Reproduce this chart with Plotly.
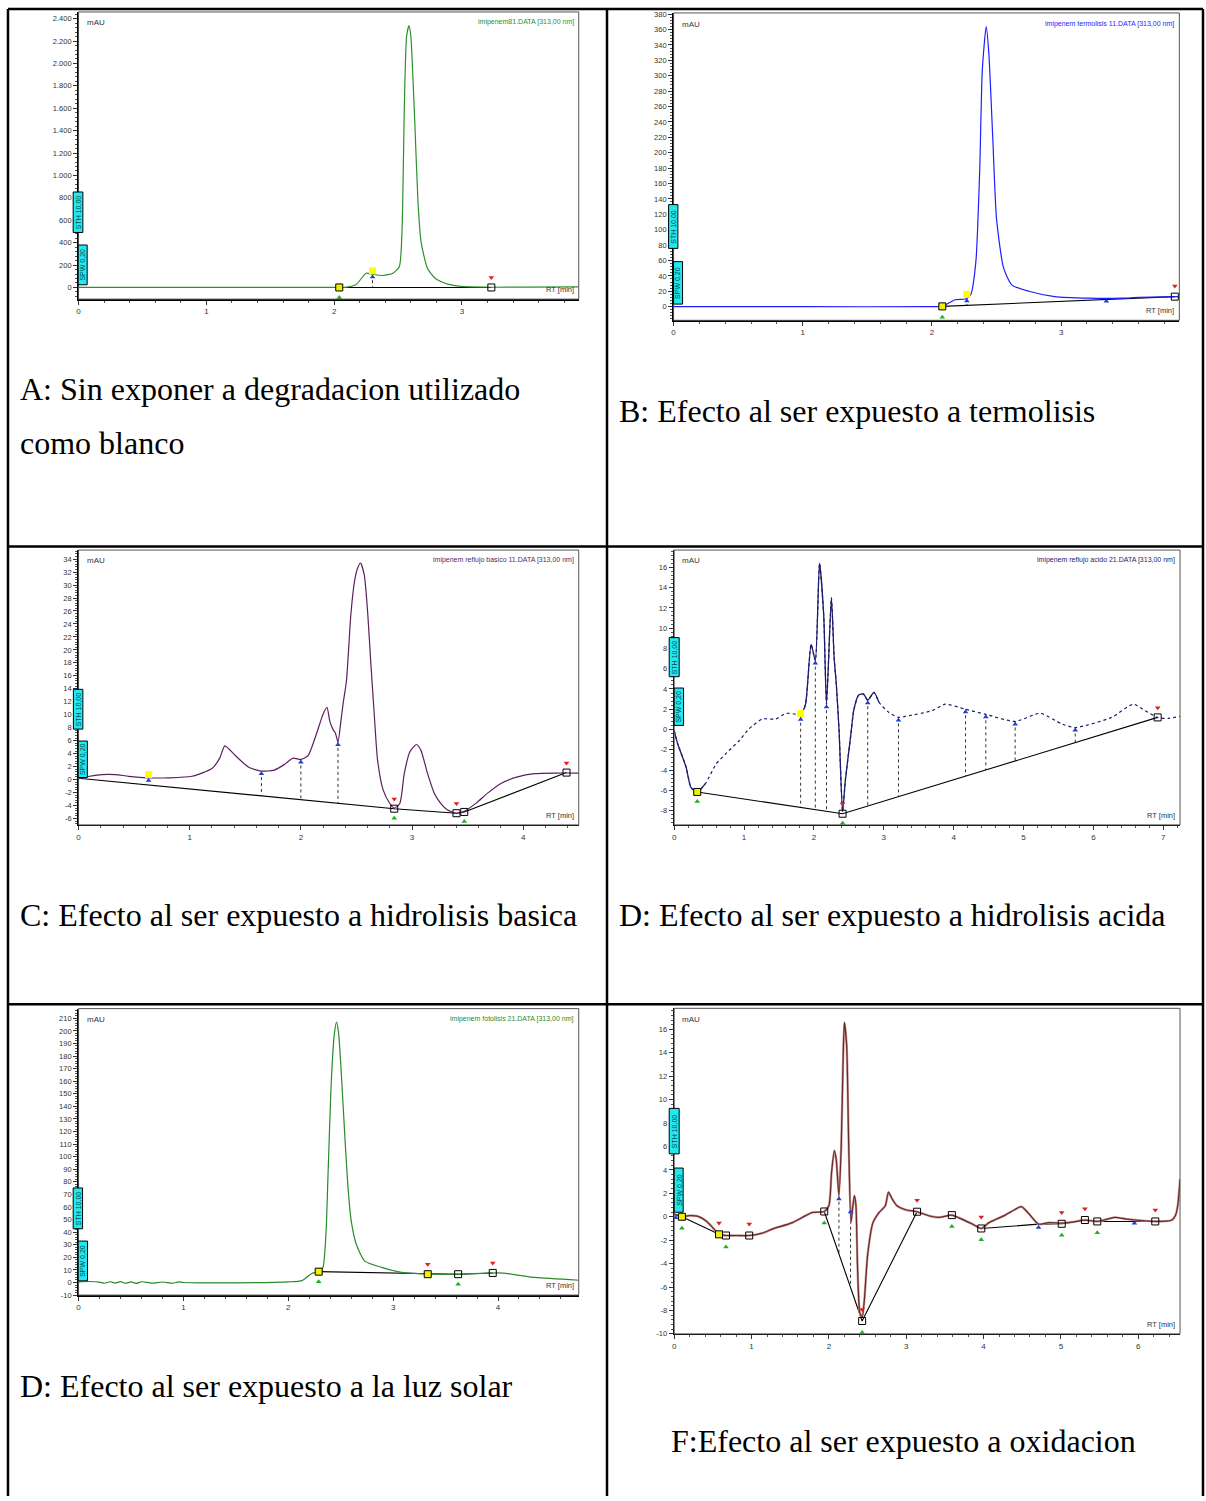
import numpy as np
import plotly.graph_objects as go

W, H = 1206, 1501

# ---------------- Panel A : imipenem81 (blanco) ----------------
a_t = [0, 0.5, 1.0, 1.5, 2.0, 2.08, 2.17, 2.25, 2.30, 2.38, 2.46, 2.51, 2.53, 2.55, 2.567, 2.586,
       2.60, 2.63, 2.656, 2.68, 2.73, 2.79, 2.89, 2.99, 3.23, 3.5, 3.91]
a_v = [0, 0, 0, 0, 0, 0, 24, 127, 118, 107, 127, 186, 468, 1652, 2244, 2338,
       2244, 1504, 764, 409, 171, 83, 30, 9, 2, 3, 5]
a_base_t = [2.04, 3.23]
a_base_v = [0, 0]
a_sq_t = [3.23]
a_ysq_t = [2.04]
a_flag_t = [2.30]
a_blue_t = [2.30]
a_red_t = [3.23]
a_green_t = [2.04]
a_drop_t = [2.30]
a_yticks = [0, 200, 400, 600, 800, 1000, 1200, 1400, 1600, 1800, 2000, 2200, 2400]
a_ylabels = ['0', '200', '400', '600', '800', '1.000', '1.200', '1.400', '1.600', '1.800',
             '2.000', '2.200', '2.400']
a_xticks = [0, 1, 2, 3]

# ---------------- Panel B : termolisis ----------------
b_t = [0, 1.0, 2.0, 2.08, 2.18, 2.26, 2.30, 2.34, 2.37, 2.39, 2.42, 2.44, 2.47, 2.50, 2.555,
       2.62, 2.75, 2.95, 3.21, 3.47, 3.60, 3.91]
b_v = [0, 0, 0, 0.4, 9, 10, 15.5, 58.5, 179, 308, 364, 330, 222, 114, 50,
       28, 20, 13, 11, 11, 12, 13]
b_base_t = [2.08, 3.88]
b_base_v = [0.4, 13]
b_sq_t = [3.88]
b_ysq_t = [2.08]
b_flag_t = [2.27]
b_blue_t = [2.27, 3.35]
b_red_t = [3.88]
b_green_t = [2.08]
b_drop_t = [2.27]
b_yticks = list(range(0, 381, 20))
b_ylabels = [str(v) for v in b_yticks]
b_xticks = [0, 1, 2, 3]

# ---------------- Panel C : hidrolisis basica ----------------
c_t = [0, 0.1, 0.21, 0.33, 0.45, 0.63, 0.81, 1.02, 1.20, 1.27, 1.316, 1.41, 1.53, 1.645, 1.76,
       1.85, 1.93, 2.0, 2.065, 2.17, 2.20, 2.235, 2.26, 2.29, 2.31, 2.334, 2.36, 2.38, 2.41,
       2.45, 2.483, 2.51, 2.537, 2.57, 2.60, 2.63, 2.66, 2.69, 2.74, 2.80, 2.84, 2.89, 2.93,
       2.98, 3.04, 3.08, 3.14, 3.20, 3.26, 3.32, 3.40, 3.47, 3.58, 3.68, 3.80, 3.95, 4.10,
       4.30, 4.50]
c_v = [0.15, 0.5, 0.77, 0.77, 0.5, 0.26, 0.26, 0.5, 1.7, 3.3, 5.2, 3.7, 1.9, 1.3, 1.45,
       2.3, 3.3, 3.1, 3.7, 8.6, 10.1, 11.15, 9.0, 7.7, 7.2, 5.8, 9.0, 11.7, 15.2,
       25.5, 30.6, 32.6, 33.4, 31.6, 26.0, 17.8, 10.1, 3.0, -1.6, -3.7, -4.4, -3.7, 0.9,
       4.25, 5.4, 4.5, 0.9, -2.1, -3.7, -4.7, -5.2, -4.9, -3.6, -2.1, -0.6, 0.4, 0.9,
       1.0, 1.0]
c_base_t = [0, 2.84, 3.40, 3.47, 4.39]
c_base_v = [0.2, -4.5, -5.2, -5.0, 1.07]
c_sq_t = [2.84, 3.40, 3.47, 4.39]
c_ysq_t = []
c_flag_t = [0.63]
c_blue_t = [0.63, 1.645, 2.0, 2.334]
c_red_t = [2.84, 3.40, 4.39]
c_green_t = [2.84, 3.47]
c_drop_t = [1.645, 2.0, 2.334]
c_yticks = list(range(-6, 35, 2))
c_ylabels = [str(v) for v in c_yticks]
c_xticks = [0, 1, 2, 3, 4]

# ---------------- Panel D : hidrolisis acida ----------------
d_t = [0, 0.05, 0.17, 0.24, 0.33, 0.45, 0.60, 0.75, 0.93, 1.07, 1.26, 1.45, 1.60, 1.74, 1.81,
       1.88, 1.96, 2.02, 2.08, 2.14, 2.18, 2.25, 2.29, 2.32, 2.36, 2.41, 2.45, 2.53, 2.57,
       2.64, 2.71, 2.77, 2.86, 2.93, 3.07, 3.21, 3.31, 3.69, 3.88, 4.17, 4.46, 4.88, 5.24,
       5.55, 5.74, 6.26, 6.57, 6.74, 6.92, 7.07, 7.24]
d_v = [-0.1, -1.4, -3.7, -5.7, -6.15, -5.3, -3.4, -2.3, -1.1, 0.06, 1.04, 1.04, 1.6, 1.5, 1.27,
       2.5, 8.4, 6.8, 16.4, 11.3, 2.5, 13.0, 7.0, 4.5, -0.1, -8.1, -5.0, -0.4, 1.9,
       3.4, 3.5, 2.9, 3.66, 2.7, 1.7, 1.2, 1.3, 1.86, 2.5, 2.0, 1.5, 0.8, 1.6,
       0.55, 0.2, 1.2, 2.5, 1.86, 1.2, 1.1, 1.3]
d_solid = [(0.0, 0.45), (1.81, 2.93)]
d_base_t = [0.33, 2.41, 6.92]
d_base_v = [-6.15, -8.3, 1.2]
d_sq_t = [2.41, 6.92]
d_ysq_t = [0.33]
d_flag_t = [1.81]
d_blue_t = [1.81, 2.02, 2.18, 2.77, 3.21, 4.17, 4.46, 4.88, 5.74]
d_red_t = [2.41, 6.92]
d_green_t = [0.33, 2.41]
d_drop_t = [1.81, 2.02, 2.18, 2.77, 3.21, 4.17, 4.46, 4.88, 5.74]
d_yticks = list(range(-8, 17, 2))
d_ylabels = [str(v) for v in d_yticks]
d_xticks = [0, 1, 2, 3, 4, 5, 6, 7]

# ---------------- Panel E : fotolisis ----------------
e_t = [0, 0.1, 0.2, 0.25, 0.3, 0.35, 0.4, 0.45, 0.5, 0.55, 0.6, 0.7, 0.8, 0.9, 0.95, 1.0,
       1.5, 2.0, 2.13, 2.22, 2.29, 2.33, 2.36, 2.38, 2.41, 2.44, 2.46, 2.48, 2.51, 2.54, 2.57,
       2.60, 2.65, 2.73, 2.89, 3.08, 3.40, 3.62, 3.90, 4.05, 4.35, 4.77]
e_v = [0.5, 0.8, 0.3, -0.6, 0.6, -0.5, 0.7, -0.6, 0.5, -0.7, 0.6, -0.5, 0.4, -0.6, 0.5, 0,
       -0.3, 0.5, 1.5, 7.0, 8.6, 12, 40, 88, 160, 198, 207, 198, 160, 115, 75,
       49, 30, 17, 12, 8, 6.6, 6.6, 7.5, 7.5, 4, 1.8]
e_base_t = [2.29, 3.33, 3.62, 3.95]
e_base_v = [8.6, 6.6, 6.6, 7.6]
e_sq_t = [3.62, 3.95]
e_ysq_t = [2.29, 3.33]
e_flag_t = []
e_blue_t = []
e_red_t = [3.33, 3.95]
e_green_t = [2.29, 3.62]
e_drop_t = []
e_yticks = list(range(-10, 211, 10))
e_ylabels = [str(v) for v in e_yticks]
e_xticks = [0, 1, 2, 3, 4]

# ---------------- Panel F : oxidacion ----------------
f_t = [0, 0.10, 0.19, 0.30, 0.41, 0.495, 0.58, 0.67, 0.80, 0.97, 1.14, 1.27, 1.53, 1.70, 1.79,
       1.94, 2.0, 2.035, 2.07, 2.095, 2.13, 2.16, 2.185, 2.20, 2.23, 2.255, 2.285, 2.31, 2.33,
       2.35, 2.37, 2.40, 2.43, 2.46, 2.50, 2.57, 2.65, 2.73, 2.77, 2.82, 2.88, 2.99, 3.14,
       3.29, 3.42, 3.59, 3.72, 3.85, 3.97, 4.07, 4.28, 4.40, 4.49, 4.58, 4.71, 4.84, 5.01,
       5.15, 5.31, 5.47, 5.60, 5.70, 5.85, 6.0, 6.22, 6.43, 6.48, 6.51, 6.54]
f_v = [0.23, 0.0, 0.1, 0.05, -0.34, -0.9, -1.5, -1.6, -1.6, -1.6, -1.4, -1.05, -0.5, 0.1, 0.37,
       0.45, 0.94, 3.8, 5.65, 4.9, 1.8, 6.1, 13.8, 16.6, 14.6, 6.6, -0.5, 0.94, 1.8,
       0.94, -4.2, -8.2, -8.6, -7.0, -3.3, -0.5, 0.37, 0.94, 2.1, 1.5, 0.94, 0.6, 0.43,
       0.09, -0.05, 0.14, -0.2, -0.6, -1.0, -0.5, 0.14, 0.6, 0.86, 0.3, -0.63, -0.5, -0.55,
       -0.45, -0.28, -0.4, -0.2, -0.05, -0.2, -0.3, -0.4, -0.3, 0.1, 0.94, 3.2]
f_base_t = [0.10, 0.58, 0.67, 0.97, None, 1.94, 2.43, 3.14, None,
            3.59, 3.97, 4.71, 5.01, 5.31, 5.47, 6.22]
f_base_v = [0.0, -1.5, -1.6, -1.6, None, 0.45, -8.9, 0.43, None,
            0.14, -1.0, -0.63, -0.6, -0.28, -0.4, -0.4]
f_sq_t = [0.67, 0.97, 1.94, 2.43, 3.14, 3.59, 3.97, 5.01, 5.31, 5.47, 6.22]
f_ysq_t = [0.10, 0.58]
f_flag_t = []
f_blue_t = [0.02, 2.13, 2.28, 4.71, 5.95]
f_red_t = [0.58, 0.97, 2.43, 3.14, 3.97, 5.01, 5.31, 6.22]
f_green_t = [0.10, 0.67, 1.94, 2.43, 3.59, 3.97, 5.01, 5.47]
f_drop_t = [2.13, 2.28]
f_yticks = list(range(-10, 17, 2))
f_ylabels = [str(v) for v in f_yticks]
f_xticks = [0, 1, 2, 3, 4, 5, 6]

captions = [
    ("A: Sin exponer a degradacion utilizado", 20, 389),
    ("como blanco", 20, 443),
    ("B: Efecto al ser expuesto a termolisis", 620, 411),
    ("C: Efecto al ser expuesto a hidrolisis basica", 20, 918),
    ("D: Efecto al ser expuesto a hidrolisis acida", 620, 918),
    ("D: Efecto al ser expuesto a la luz solar", 20, 1391),
    ("F:Efecto al ser expuesto a oxidacion", 672, 1447),
]

# --------------- build panels ---------------
panels = [
    dict(t=a_t, v=a_v, bt=a_base_t, bv=a_base_v, sq=a_sq_t, ysq=a_ysq_t, flag=a_flag_t,
         blue=a_blue_t, red=a_red_t, green=a_green_t, drop=a_drop_t, yt=a_yticks, yl=a_ylabels,
         xt=a_xticks, color='#2e8f2e', title='imipenem81.DATA [313,00 nm]',
         px=(76.7, 577.7, 9, 297.7), xr=[0, 3.914], yr=[-104, 2460], ymin=40,
         sth=(71.3, 81, 190, 230.7), spw=(76.3, 85.3, 243.3, 283.3)),
    dict(t=b_t, v=b_v, bt=b_base_t, bv=b_base_v, sq=b_sq_t, ysq=b_ysq_t, flag=b_flag_t,
         blue=b_blue_t, red=b_red_t, green=b_green_t, drop=b_drop_t, yt=b_yticks, yl=b_ylabels,
         xt=b_xticks, color='#1e1eff', title='imipenem termolisis 11.DATA [313,00 nm]',
         px=(672.7, 1179.3, 10, 319), xr=[0, 3.915], yr=[-17.7, 381.6], ymin=4,
         sth=(667.7, 677, 202.7, 246.7), spw=(672.7, 681.7, 260, 302.7)),
    dict(t=c_t, v=c_v, bt=c_base_t, bv=c_base_v, sq=c_sq_t, ysq=c_ysq_t, flag=c_flag_t,
         blue=c_blue_t, red=c_red_t, green=c_green_t, drop=c_drop_t, yt=c_yticks, yl=c_ylabels,
         xt=c_xticks, color='#5b1f5e', title='imipenem reflujo basico 11.DATA [313,00 nm]',
         px=(76.7, 577.7, 550, 826.3), xr=[0, 4.5], yr=[-7.0, 35.4], ymin=0.4,
         sth=(71.5, 81, 690, 730), spw=(76.3, 85.5, 742, 778.7)),
    dict(t=d_t, v=d_v, bt=d_base_t, bv=d_base_v, sq=d_sq_t, ysq=d_ysq_t, flag=d_flag_t,
         blue=d_blue_t, red=d_red_t, green=d_green_t, drop=d_drop_t, yt=d_yticks, yl=d_ylabels,
         xt=d_xticks, color='#1c1c6b', title='imipenem reflujo acido 21.DATA [313,00 nm]',
         px=(673.3, 1180, 550, 826.3), xr=[0, 7.24], yr=[-9.4, 17.7], ymin=0.4,
         sth=(668.3, 678.3, 638, 677.3), spw=(673.3, 682.7, 688.7, 726.3), solid=d_solid),
    dict(t=e_t, v=e_v, bt=e_base_t, bv=e_base_v, sq=e_sq_t, ysq=e_ysq_t, flag=e_flag_t,
         blue=e_blue_t, red=e_red_t, green=e_green_t, drop=e_drop_t, yt=e_yticks, yl=e_ylabels,
         xt=e_xticks, color='#2a8a2a', title='imipenem fotolisis 21.DATA [313,00 nm]',
         px=(76.7, 577.7, 1011, 1299), xr=[0, 4.77], yr=[-10, 217.7], ymin=2,
         sth=(71.3, 80.7, 1191.3, 1232.3), spw=(76.3, 85.7, 1244.7, 1284.7)),
    dict(t=f_t, v=f_v, bt=f_base_t, bv=f_base_v, sq=f_sq_t, ysq=f_ysq_t, flag=f_flag_t,
         blue=f_blue_t, red=f_red_t, green=f_green_t, drop=f_drop_t, yt=f_yticks, yl=f_ylabels,
         xt=f_xticks, color='#6e2626', title='',
         px=(673.3, 1180, 1010.7, 1338), xr=[0, 6.54], yr=[-10, 17.8], ymin=0.4,
         sth=(668.3, 678.3, 1111.3, 1157), spw=(673.3, 682.3, 1171.3, 1215.7), under='#c8a0a0'),
]

SANS = 'Liberation Sans, Arial, sans-serif'
fig = go.Figure()
shapes = []
annotations = []
layout = {}


def px2paper_x(x):
    return x / W


def px2paper_y(y):
    return 1 - y / H


for i, p in enumerate(panels):
    n = '' if i == 0 else str(i + 1)
    xa, ya = 'x' + n, 'y' + n
    L, R, T, B = p['px']
    span = p['yr'][1] - p['yr'][0]

    bpairs = [(t, v) for t, v in zip(p['bt'], p['bv']) if t is not None]
    bt_f = np.array([q[0] for q in bpairs])
    bv_f = np.array([q[1] for q in bpairs])
    ct = np.array(p['t'])
    cv = np.array(p['v'])

    # drop lines (dotted verticals)
    dx, dy = [], []
    for t in p['drop']:
        dx += [t, t, None]
        dy += [float(np.interp(t, ct, cv)), float(np.interp(t, bt_f, bv_f)), None]
    if dx:
        fig.add_trace(go.Scatter(x=dx, y=dy, mode='lines', xaxis=xa, yaxis=ya,
                                 line=dict(color='#333333', width=1, dash='dot')))

    # baseline
    fig.add_trace(go.Scatter(x=p['bt'], y=p['bv'], mode='lines', xaxis=xa, yaxis=ya,
                             line=dict(color='black', width=1.1), connectgaps=False))

    # curve
    if 'under' in p:
        fig.add_trace(go.Scatter(x=p['t'], y=p['v'], mode='lines', xaxis=xa, yaxis=ya,
                                 line=dict(color=p['under'], width=2.4, shape='spline',
                                           smoothing=0.6)))
    if 'solid' in p:
        fig.add_trace(go.Scatter(x=p['t'], y=p['v'], mode='lines', xaxis=xa, yaxis=ya,
                                 line=dict(color=p['color'], width=1.2, dash='dot',
                                           shape='spline', smoothing=0.6)))
        sv = [v if any(a <= t <= b for a, b in p['solid']) else None
              for t, v in zip(p['t'], p['v'])]
        fig.add_trace(go.Scatter(x=p['t'], y=sv, mode='lines', xaxis=xa, yaxis=ya,
                                 connectgaps=False,
                                 line=dict(color=p['color'], width=1.3, shape='spline',
                                           smoothing=0.6)))
    else:
        fig.add_trace(go.Scatter(x=p['t'], y=p['v'], mode='lines', xaxis=xa, yaxis=ya,
                                 line=dict(color=p['color'], width=1.2, shape='spline',
                                           smoothing=0.6)))

    off = 0.035 * span
    if p['red']:
        fig.add_trace(go.Scatter(x=p['red'], y=[float(np.interp(t, bt_f, bv_f)) + off for t in p['red']],
                                 mode='markers', xaxis=xa, yaxis=ya,
                                 marker=dict(symbol='triangle-down', size=5, color='#e02020')))
    if p['green']:
        fig.add_trace(go.Scatter(x=p['green'], y=[float(np.interp(t, bt_f, bv_f)) - off for t in p['green']],
                                 mode='markers', xaxis=xa, yaxis=ya,
                                 marker=dict(symbol='triangle-up', size=5, color='#20b020')))
    if p['flag']:
        fig.add_trace(go.Scatter(x=p['flag'], y=[float(np.interp(t, ct, cv)) + 0.012 * span for t in p['flag']],
                                 mode='markers', xaxis=xa, yaxis=ya,
                                 marker=dict(symbol='square', size=7, color='#ffff00',
                                             line=dict(width=0))))
    if p['blue']:
        fig.add_trace(go.Scatter(x=p['blue'], y=[float(np.interp(t, ct, cv)) - 0.01 * span for t in p['blue']],
                                 mode='markers', xaxis=xa, yaxis=ya,
                                 marker=dict(symbol='triangle-up', size=5, color='#2040d0')))
    if p['ysq']:
        fig.add_trace(go.Scatter(x=p['ysq'], y=[float(np.interp(t, bt_f, bv_f)) for t in p['ysq']],
                                 mode='markers', xaxis=xa, yaxis=ya,
                                 marker=dict(symbol='square', size=7, color='#f0f000',
                                             line=dict(color='black', width=1))))
    if p['sq']:
        fig.add_trace(go.Scatter(x=p['sq'], y=[float(np.interp(t, bt_f, bv_f)) for t in p['sq']],
                                 mode='markers', xaxis=xa, yaxis=ya,
                                 marker=dict(symbol='square-open', size=7, color='black',
                                             line=dict(width=1))))

    dom_x = [px2paper_x(L), px2paper_x(R)]
    dom_y = [px2paper_y(B), px2paper_y(T)]
    xk = 'xaxis' + n
    yk = 'yaxis' + n
    layout[xk] = dict(domain=dom_x, range=p['xr'], anchor=ya, showgrid=False, zeroline=False,
                      showline=True, linecolor='black', linewidth=1.5,
                      tickmode='array', tickvals=p['xt'], ticktext=[str(v) for v in p['xt']],
                      ticks='outside', ticklen=4, tickwidth=1, tickcolor='#333',
                      minor=dict(ticks='outside', ticklen=2, dtick=0.2, tickcolor='#555', showgrid=False),
                      tickfont=dict(family=SANS, size=8, color='#333'), fixedrange=True)
    layout[yk] = dict(domain=dom_y, range=p['yr'], anchor=xa, showgrid=False, zeroline=False,
                      showline=True, linecolor='black', linewidth=1.5,
                      tickmode='array', tickvals=p['yt'], ticktext=p['yl'],
                      ticks='outside', ticklen=4, tickwidth=1, tickcolor='#333',
                      minor=dict(ticks='outside', ticklen=2, dtick=p['ymin'], tickcolor='#555', showgrid=False),
                      tickfont=dict(family=SANS, size=7.5, color='#333'), fixedrange=True)

    shapes.append(dict(type='rect', xref=xa + ' domain', yref=ya + ' domain', x0=0, x1=1, y0=0, y1=1,
                       line=dict(color='#555', width=1), layer='above'))

    annotations.append(dict(text='mAU', xref=xa + ' domain', yref=ya + ' domain', x=0.012, y=0.985,
                            xanchor='left', yanchor='top', showarrow=False,
                            font=dict(family=SANS, size=8, color='#333')))
    if p['title']:
        annotations.append(dict(text=p['title'], xref=xa + ' domain', yref=ya + ' domain', x=0.994,
                                y=0.985, xanchor='right', yanchor='top', showarrow=False,
                                font=dict(family=SANS, size=7, color=p['color'])))
    annotations.append(dict(text='RT [min]', xref=xa + ' domain', yref=ya + ' domain', x=0.994, y=0.01,
                            xanchor='right', yanchor='bottom', showarrow=False,
                            font=dict(family=SANS, size=7.5, color='#333')))

    for (bx0, bx1, by0, by1), lab in ((p['sth'], 'STH 10,00'), (p['spw'], 'SPW 0,20')):
        shapes.append(dict(type='rect', xref='paper', yref='paper',
                           x0=px2paper_x(bx0), x1=px2paper_x(bx1),
                           y0=px2paper_y(by1), y1=px2paper_y(by0),
                           fillcolor='#22e8f0', line=dict(color='black', width=1), layer='above'))
        annotations.append(dict(text=lab, xref='paper', yref='paper',
                                x=px2paper_x((bx0 + bx1) / 2), y=px2paper_y((by0 + by1) / 2),
                                xanchor='center', yanchor='middle', textangle=-90, showarrow=False,
                                font=dict(family=SANS, size=7, color='#004848')))

# table borders
LW = 2.5
for (x0, y0, x1, y1) in [(6, 6, 1203, 6), (6, 6, 6, 1501), (606, 6, 606, 1501), (1203, 6, 1203, 1501),
                         (6, 546.5, 1203, 546.5), (6, 1006.5, 1203, 1006.5)]:
    shapes.append(dict(type='line', xref='paper', yref='paper',
                       x0=px2paper_x(x0), x1=px2paper_x(x1), y0=px2paper_y(y0), y1=px2paper_y(y1),
                       line=dict(color='black', width=LW), layer='above'))

for txt, x, y in captions:
    annotations.append(dict(text=txt, xref='paper', yref='paper', x=px2paper_x(x - 4), y=px2paper_y(y - 1),
                            xanchor='left', yanchor='middle', showarrow=False,
                            font=dict(family='Liberation Serif, Times New Roman, serif', size=32,
                                      color='black')))

fig.update_layout(width=W, height=H, margin=dict(l=0, r=0, t=0, b=0), autosize=False,
                  paper_bgcolor='white', plot_bgcolor='white', showlegend=False, hovermode=False,
                  shapes=shapes, annotations=annotations, **layout)

fig.write_html("out.html", config=dict(displayModeBar=False, staticPlot=True))
